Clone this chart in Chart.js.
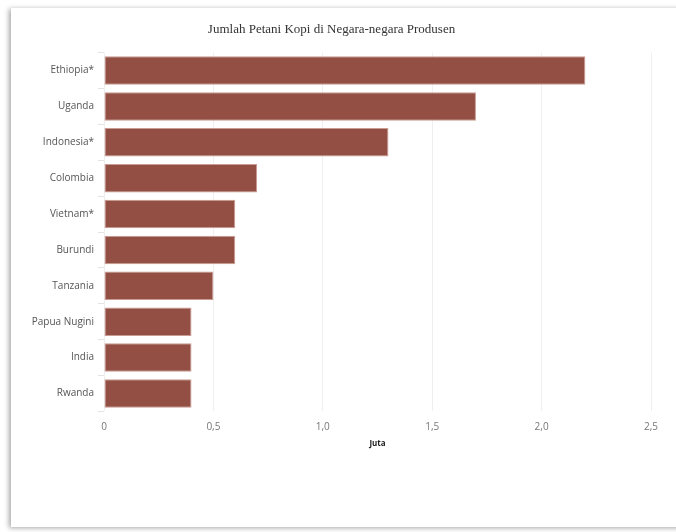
<!DOCTYPE html>
<html>
<head>
<meta charset="utf-8">
<script src="https://cdn.jsdelivr.net/npm/chart.js@4/dist/chart.umd.min.js"></script>
<style>
  body { margin: 0; background: #fff; }
  #card {
    position: absolute; left: 11px; top: 8px; width: 700px; height: 519px;
    background: #fff; box-shadow: -2px 1px 5px rgba(0,0,0,0.35);
  }
  #wrap { position: absolute; left: 0; top: 0; width: 676px; height: 532px; }
</style>
</head>
<body>
<div id="card"></div>
<div id="wrap"><canvas id="myChart"></canvas></div>
<script>
const countries = ["Ethiopia*", "Uganda", "Indonesia*", "Colombia", "Vietnam*", "Burundi", "Tanzania", "Papua Nugini", "India", "Rwanda"];
const farmers = [2.2, 1.7, 1.3, 0.7, 0.6, 0.6, 0.5, 0.4, 0.4, 0.4];
const chartTitle = "Jumlah Petani Kopi di Negara-negara Produsen";
const axisTitle = "Juta";

const config = {
  type: "bar",
  data: {
    labels: countries,
    datasets: [
      {
        label: axisTitle,
        data: farmers,
        backgroundColor: "#934f43",
        borderColor: "#c99b92",
        borderWidth: 1,
        borderSkipped: false,
        barPercentage: 0.88,
        categoryPercentage: 0.9,
      },
    ],
  },
  options: {
    indexAxis: "y",
    responsive: true,
    maintainAspectRatio: false,
    animation: false,
    layout: {
      padding: { left: 12, right: 25, top: 22, bottom: 79 },
    },
    scales: {
      x: {
        min: 0,
        max: 2.5,
        border: { display: false },
        grid: { color: "#efefef", drawTicks: false },
        ticks: {
          stepSize: 0.5,
          padding: 10,
          color: "#777",
          font: { size: 10, family: "'Open Sans', sans-serif" },
          callback: function (val) {
            return val === 0 ? "0" : val.toFixed(1).replace(".", ",");
          },
        },
        title: {
          display: true,
          text: axisTitle,
          color: "#222",
          padding: { top: -4 },
          font: { size: 8, weight: "bold", family: "'Open Sans', sans-serif" },
        },
      },
      y: {
        border: { display: false },
        grid: { drawOnChartArea: false, color: "#e4e4e4", tickLength: 6 },
        ticks: {
          padding: 4,
          color: "#555",
          font: { size: 10, family: "'Open Sans', sans-serif" },
        },
        afterFit: function (scale) {
          scale.width = 92;
        },
      },
    },
    plugins: {
      legend: { display: false },
      tooltip: { enabled: false },
      title: {
        display: true,
        text: chartTitle,
        color: "#333",
        padding: { top: 0, bottom: 15 },
        font: { size: 13, weight: "normal", family: "'Liberation Serif', serif" },
      },
    },
  },
};

new Chart(document.getElementById("myChart"), config);
</script>
</body>
</html>
